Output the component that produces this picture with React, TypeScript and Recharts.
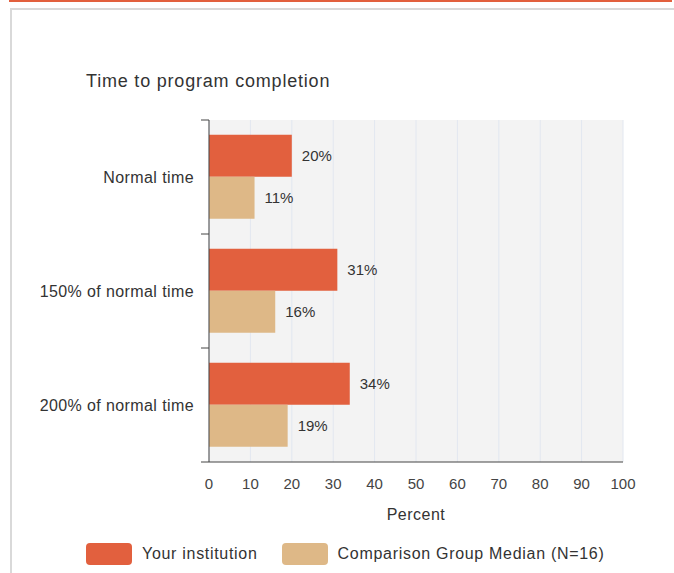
import React from 'react'
import {
  BarChart, Bar, XAxis, YAxis, CartesianGrid, LabelList
} from 'recharts'

const categories = ['Normal time', '150% of normal time', '200% of normal time']
const yourInstitution = [20, 31, 34]
const comparisonMedian = [11, 16, 19]
const xTicks = [0, 10, 20, 30, 40, 50, 60, 70, 80, 90, 100]

const ORANGE = '#e2603e'
const TAN = '#deb887'
const FONT = 'Arial, "Liberation Sans", sans-serif'

// plot box inside the 674x573 page
const W = 674
const H = 573
const M = { top: 120, right: 51, bottom: 43, left: 0 }
const Y_AXIS_W = 209
const X_AXIS_H = 68
const PLOT_H = H - M.top - M.bottom - X_AXIS_H

const data = categories.map((name, i) => ({
  name,
  yours: yourInstitution[i],
  median: comparisonMedian[i],
}))

function CategoryTick(props: any) {
  const { x, y, payload, index } = props
  const band = PLOT_H / categories.length
  const axisX = M.left + Y_AXIS_W
  return (
    <g>
      <line x1={axisX - 8} x2={axisX} y1={y - band / 2} y2={y - band / 2} stroke="#444" />
      {index === categories.length - 1 && (
        <line x1={axisX - 8} x2={axisX} y1={y + band / 2} y2={y + band / 2} stroke="#444" />
      )}
      <text
        x={x}
        y={y}
        dy="0.35em"
        textAnchor="end"
        fill="#333"
        fontSize={16}
        fontFamily={FONT}
        style={{ letterSpacing: '0.4px' }}
      >
        {payload.value}
      </text>
    </g>
  )
}

function LegendItem({ color, label }: { color: string; label: string }) {
  return (
    <div style={{ display: 'flex', alignItems: 'center', marginRight: 24 }}>
      <div style={{ width: 46, height: 22, background: color, borderRadius: 4, marginRight: 10 }} />
      <span style={{ fontSize: 16, color: '#333', letterSpacing: '0.7px' }}>{label}</span>
    </div>
  )
}

export default function App() {
  return (
    <div style={{ position: 'absolute', top: 0, left: 0, width: W, height: H, background: '#fff', fontFamily: FONT, overflow: 'hidden' }}>
      <div style={{ position: 'absolute', top: 0, left: 9, width: 663, height: 2, background: ORANGE }} />
      <div style={{ position: 'absolute', top: 8, left: 10, width: 700, height: 600, borderTop: '2px solid #d9d9d9', borderLeft: '2px solid #d9d9d9' }} />
      <div style={{ position: 'absolute', top: 71, left: 86, fontSize: 18, color: '#333', letterSpacing: '0.8px' }}>
        Time to program completion
      </div>
      <div style={{ position: 'absolute', top: 0, left: 0 }}>
        <BarChart
          width={W}
          height={H}
          data={data}
          layout="vertical"
          margin={M}
          barCategoryGap="13%"
          barGap={0}
        >
          <CartesianGrid horizontal={false} stroke="#e2e7f0" fill="#f3f3f3" />
          <XAxis
            type="number"
            domain={[0, 100]}
            ticks={xTicks}
            interval={0}
            height={X_AXIS_H}
            tickLine={false}
            tickMargin={10}
            axisLine={{ stroke: '#444' }}
            tick={{ fill: '#444', fontSize: 15, fontFamily: FONT }}
            label={{ value: 'Percent', position: 'insideBottom', offset: 10, fill: '#333', fontSize: 16, fontFamily: FONT, style: { letterSpacing: '0.5px' } }}
          />
          <YAxis
            type="category"
            dataKey="name"
            width={Y_AXIS_W}
            tickLine={false}
            tickMargin={9}
            axisLine={{ stroke: '#444' }}
            tick={<CategoryTick />}
            interval={0}
          />
          <Bar dataKey="yours" fill={ORANGE} isAnimationActive={false}>
            <LabelList dataKey="yours" position="right" offset={10} formatter={(v: any) => `${v}%`}
              fill="#333" fontSize={15} fontFamily={FONT} />
          </Bar>
          <Bar dataKey="median" fill={TAN} isAnimationActive={false}>
            <LabelList dataKey="median" position="right" offset={10} formatter={(v: any) => `${v}%`}
              fill="#333" fontSize={15} fontFamily={FONT} />
          </Bar>
        </BarChart>
      </div>
      <div style={{ position: 'absolute', top: 543, left: 86, display: 'flex', alignItems: 'center' }}>
        <LegendItem color={ORANGE} label="Your institution" />
        <LegendItem color={TAN} label="Comparison Group Median (N=16)" />
      </div>
    </div>
  )
}
